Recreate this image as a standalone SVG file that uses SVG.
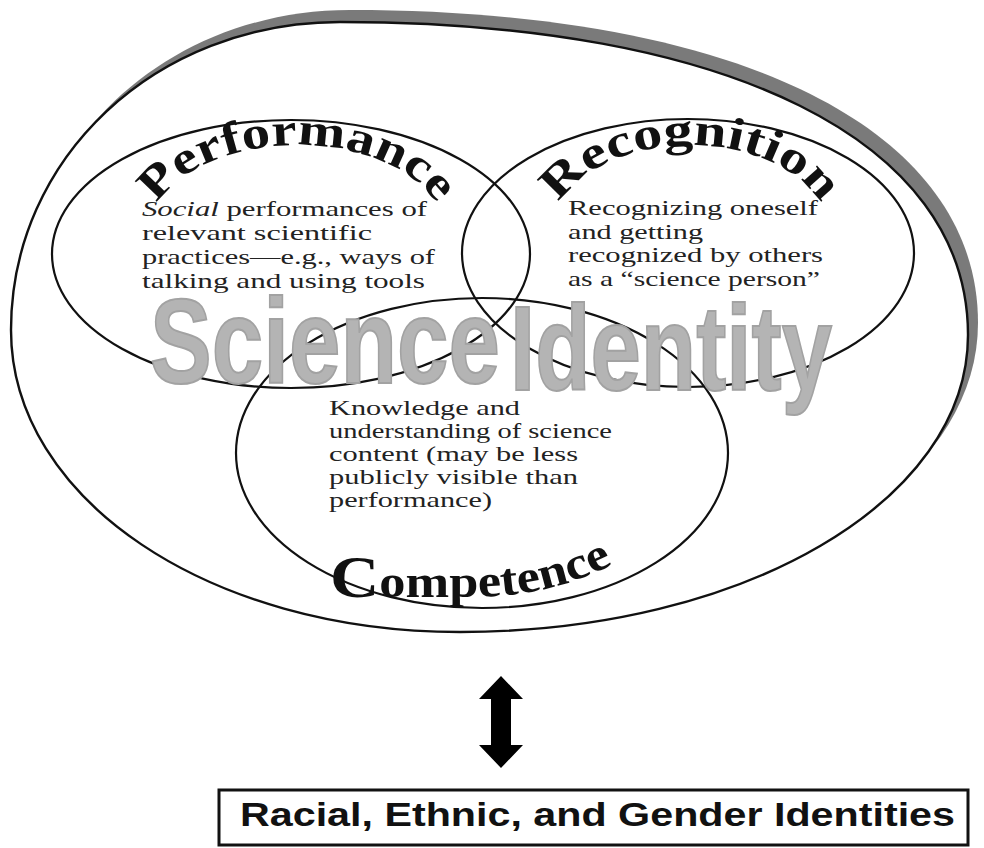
<svg xmlns="http://www.w3.org/2000/svg" width="984" height="848" viewBox="0 0 984 848">
  <defs>
    <style>
      .ring { fill: none; stroke: #111; stroke-width: 2.2; }
      .outer { fill: #fff; stroke: #111; stroke-width: 2.4; }
      .shadow { fill: #7a7a7a; }
      .title { font-family: "Liberation Serif", "Times New Roman", serif; font-weight: bold; font-size: 46px; fill: #111; }
      .body { font-family: "Liberation Serif", "Times New Roman", serif; font-size: 21.5px; fill: #222; }
      .wordart { font-family: "Liberation Sans", Arial, sans-serif; font-weight: bold; font-size: 120px; fill: #b4b4b4; stroke: #a2a2a2; stroke-width: 2; }
      .boxlabel { font-family: "Liberation Sans", Arial, sans-serif; font-weight: bold; font-size: 34px; fill: #111; }
    </style>
    <!-- outer egg-shaped boundary -->
    <path id="egg" d="M11 330 C11 157.5 156 22 340 22 C729 22 968 141 968 335 C968 501 744 632 460 632 C209 632 11 499 11 330 Z"/>
    <!-- baselines for the arched titles -->
    <path id="arcPerf" d="M147 237 A150 92 0 0 1 447 237"/>
    <path id="arcRecog" d="M550 236 A140 91 0 0 1 830 236"/>
    <path id="arcComp" d="M280 597 L470 597 Q570 597 645 545"/>
  </defs>

  <!-- outer boundary with drop shadow -->
  <g id="boundary">
    <use href="#egg" class="shadow" transform="translate(10,-12)"/>
    <use href="#egg" class="outer"/>
  </g>

  <g id="performance">
    <ellipse class="ring" cx="291" cy="254" rx="239" ry="134"/>
  </g>
  <g id="recognition">
    <ellipse class="ring" cx="688" cy="253" rx="226" ry="134"/>
  </g>
  <g id="competence">
    <ellipse class="ring" cx="482" cy="453" rx="246" ry="155"/>
  </g>

  <!-- central label -->
  <g id="science-identity">
    <text class="wordart" x="150" y="383" textLength="350" lengthAdjust="spacingAndGlyphs">Science</text>
    <text class="wordart" x="510" y="390" textLength="322" lengthAdjust="spacingAndGlyphs">Identity</text>
  </g>

  <g id="performance-text">
    <text class="title"><textPath href="#arcPerf" startOffset="50%" text-anchor="middle" textLength="315" lengthAdjust="spacingAndGlyphs">Performance</textPath></text>
    <text class="body" x="142" y="216" textLength="285" lengthAdjust="spacingAndGlyphs"><tspan font-style="italic">Social</tspan> performances of</text>
    <text class="body" x="142" y="240" textLength="230" lengthAdjust="spacingAndGlyphs">relevant scientific</text>
    <text class="body" x="142" y="264" textLength="293" lengthAdjust="spacingAndGlyphs">practices—e.g., ways of</text>
    <text class="body" x="142" y="288" textLength="283" lengthAdjust="spacingAndGlyphs">talking and using tools</text>
  </g>

  <g id="recognition-text">
    <text class="title"><textPath href="#arcRecog" startOffset="50%" text-anchor="middle" textLength="298" lengthAdjust="spacingAndGlyphs">Recognition</textPath></text>
    <text class="body" x="568" y="215" textLength="250" lengthAdjust="spacingAndGlyphs">Recognizing oneself</text>
    <text class="body" x="568" y="239" textLength="135" lengthAdjust="spacingAndGlyphs">and getting</text>
    <text class="body" x="568" y="262" textLength="255" lengthAdjust="spacingAndGlyphs">recognized by others</text>
    <text class="body" x="568" y="286" textLength="252" lengthAdjust="spacingAndGlyphs">as a “science person”</text>
  </g>

  <g id="competence-text">
    <text class="body" x="329" y="415" textLength="191" lengthAdjust="spacingAndGlyphs">Knowledge and</text>
    <text class="body" x="329" y="438" textLength="283" lengthAdjust="spacingAndGlyphs">understanding of science</text>
    <text class="body" x="329" y="461" textLength="249" lengthAdjust="spacingAndGlyphs">content (may be less</text>
    <text class="body" x="329" y="484" textLength="249" lengthAdjust="spacingAndGlyphs">publicly visible than</text>
    <text class="body" x="329" y="507" textLength="163" lengthAdjust="spacingAndGlyphs">performance)</text>
    <text class="title" font-size="52"><textPath href="#arcComp" startOffset="50" textLength="288" lengthAdjust="spacingAndGlyphs"><tspan font-size="60">C</tspan>ompetence</textPath></text>
  </g>

  <!-- two-way link between the diagram and the box below -->
  <g id="connectors">
    <polygon fill="#000" points="501,676 523,699 511,699 511,745 523,745 501,768 479,745 491,745 491,699 479,699"/>
  </g>

  <g id="identities">
    <rect x="219" y="790" width="749" height="55" fill="#fff" stroke="#111" stroke-width="3"/>
    <text class="boxlabel" x="240" y="826" textLength="715" lengthAdjust="spacingAndGlyphs">Racial, Ethnic, and Gender Identities</text>
  </g>
</svg>
